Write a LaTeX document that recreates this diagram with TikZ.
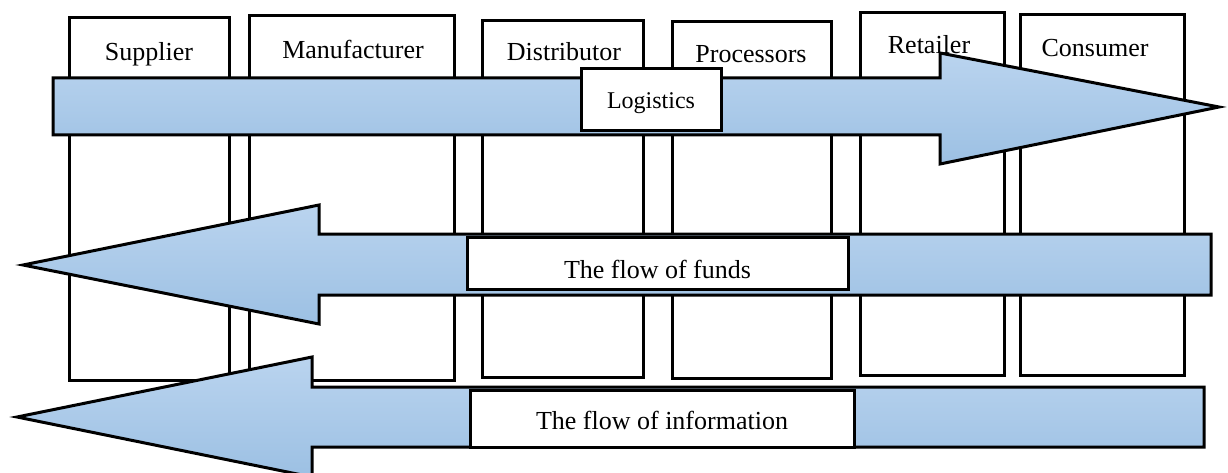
\documentclass[tikz,border=0pt]{standalone}
\usepackage{fontspec}
\setmainfont{Liberation Serif}
\definecolor{flowtop}{RGB}{186,212,239}
\definecolor{flowbot}{RGB}{156,192,227}
\begin{document}
\begin{tikzpicture}[x=1pt,y=-1pt,
  colbox/.style={draw=black,line width=3pt,fill=white},
  flowarrow/.style={draw=black,line width=3pt,line join=miter,top color=flowtop,bottom color=flowbot},
  labbox/.style={draw=black,line width=3pt,fill=white},
  lbl/.style={inner sep=0pt,anchor=base,font=\fontsize{26}{30}\selectfont},
  smalllbl/.style={inner sep=0pt,anchor=base,font=\fontsize{24}{28}\selectfont}]
\useasboundingbox (0,0) rectangle (1228,473);
% columns
\path[colbox] (69,18) rectangle (229,380);
\path[colbox] (249,16) rectangle (454,380);
\path[colbox] (482,21) rectangle (643,377);
\path[colbox] (672,22) rectangle (831,378);
\path[colbox] (860,13) rectangle (1004,375);
\path[colbox] (1020,15) rectangle (1184,375);
\node[lbl] (supplier) at (149,61) {Supplier};
\node[lbl] (manufacturer) at (353,59) {Manufacturer};
\node[lbl] (distributor) at (564,61) {Distributor};
\node[lbl] (processors) at (751,63) {Processors};
\node[lbl] (retailer) at (929,54) {Retailer};
\node[lbl] (consumer) at (1095,57) {Consumer};
% logistics arrow
\path[flowarrow] (53,78) -- (940,78) -- (940,53) -- (1219,107) -- (940,164) -- (940,135) -- (53,135) -- cycle;
\path[labbox] (581,69) rectangle (721,131);
\node[smalllbl] (logistics) at (651,109) {Logistics};
% funds arrow
\path[flowarrow] (1211,234) -- (319,234) -- (319,205) -- (23,265) -- (319,324) -- (319,295) -- (1211,295) -- cycle;
\path[labbox] (467,237) rectangle (848,289);
\node[lbl] (funds) at (657.5,278) {The flow of funds};
% information arrow
\path[flowarrow] (1204,387) -- (312,387) -- (312,357) -- (17,417) -- (312,477) -- (312,447) -- (1204,447) -- cycle;
\path[labbox] (470,390) rectangle (854,447);
\node[lbl] (information) at (662,429) {The flow of information};
\end{tikzpicture}
\end{document}
